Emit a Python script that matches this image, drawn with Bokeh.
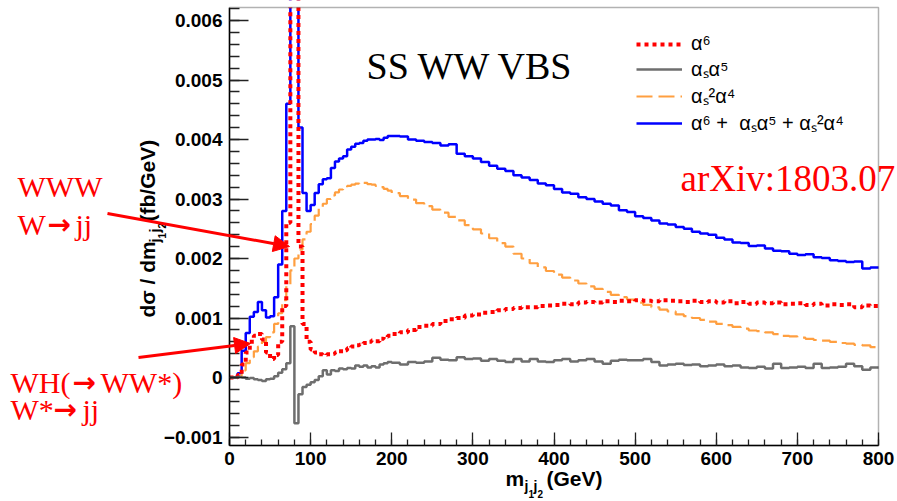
import math
from bokeh.plotting import figure
from bokeh.models import (Range1d, FixedTicker, Label, Arrow, NormalHead, Legend,
                          LegendItem, BoxAnnotation)
from bokeh.embed import file_html
from bokeh.resources import INLINE

# ---------------- data ----------------
# bin edges in GeV: 5 GeV bins up to 200, 10 GeV bins above
bin_edges = list(range(0, 200, 5)) + list(range(200, 801, 10))

alpha6 = [
    0, 0, 0.00004, 0.00022, 0.00042, 0.0006, 0.0007, 0.00073, 0.00064, 0.00042,
    0.00031, 0.00038, 0.0006, 0.0012, 0.0026, 0.0085, 0.008, 0.0022, 0.0009, 0.0006,
    0.00047, 0.00042, 0.00039, 0.00038, 0.00039, 0.0004, 0.00042, 0.00044, 0.00046, 0.00049,
    0.00052, 0.00054, 0.00055, 0.00058, 0.0006, 0.00062, 0.00061, 0.00065, 0.00068, 0.0007,
    0.00073, 0.00076, 0.0008, 0.00085, 0.00087, 0.0009, 0.00095, 0.00098, 0.001, 0.00104,
    0.00106, 0.00109, 0.0011, 0.00113, 0.00115, 0.00117, 0.00118, 0.00118, 0.0012, 0.00121,
    0.00122, 0.00124, 0.00123, 0.00126, 0.00127, 0.00126, 0.00128, 0.00127, 0.00129, 0.00128,
    0.0013, 0.00129, 0.00128, 0.0013, 0.00129, 0.00128, 0.00127, 0.00129, 0.00127, 0.00128,
    0.00126, 0.00128, 0.00125, 0.00127, 0.00124, 0.00126, 0.00125, 0.00126, 0.00123, 0.00124,
    0.00125, 0.00122, 0.00124, 0.00121, 0.00123, 0.00122, 0.00123, 0.00118, 0.00121, 0.0012,
]

as_alpha5 = [
    0, 0, 0.00001, 0, -0.00002, -0.00001, -0.00003, -0.00004, -0.00006, -0.00003,
    -0.00002, 0.00002, 0.00008, 0.00014, 0.00024, 0.00086, -0.00077, -0.00028, -0.00016, -0.00012,
    -0.00008, -0.00004, 0.00002, 0.00012, 0.00005, 0.00012, 0.00011, 0.00015, 0.00014, 0.00016,
    0.00015, 0.0002, 0.00018, 0.0002, 0.00017, 0.00019, 0.00017, 0.00022, 0.00024, 0.00026,
    0.00025, 0.00022, 0.00026, 0.00025, 0.00027, 0.00033, 0.0003, 0.00029, 0.00034, 0.00031,
    0.00032, 0.00028, 0.00031, 0.00028, 0.00026, 0.00031, 0.00027, 0.00031, 0.00027, 0.00026,
    0.00029, 0.00031, 0.00027, 0.00029, 0.00031, 0.00027, 0.00023, 0.00028, 0.0003, 0.00029,
    0.00029, 0.00031, 0.00026, 0.0002, 0.00022, 0.00023, 0.00021, 0.00022, 0.00019, 0.0002,
    0.00022, 0.00019, 0.0002, 0.00017, 0.00016, 0.00018, 0.00015, 0.00023, 0.00016, 0.00017,
    0.00018, 0.00016, 0.00023, 0.00016, 0.00017, 0.00018, 0.00023, 0.00019, 0.00013, 0.00017,
]

as2_alpha4 = [
    0, 0, 0.00002, 0.00012, 0.00024, 0.00034, 0.00044, 0.00052, 0.0006, 0.00068,
    0.00076, 0.0009, 0.00108, 0.0013, 0.00155, 0.0018, 0.002, 0.00215, 0.00232, 0.00245,
    0.00258, 0.00272, 0.00284, 0.00292, 0.003, 0.00306, 0.00311, 0.00316, 0.00319, 0.00322,
    0.00324, 0.00326, 0.00325, 0.00327, 0.00325, 0.00324, 0.00322, 0.0032, 0.00317, 0.00314,
    0.0031, 0.00305, 0.00299, 0.00293, 0.00288, 0.00282, 0.00277, 0.0027, 0.00264, 0.00256,
    0.00249, 0.00242, 0.00234, 0.00226, 0.0022, 0.00208, 0.002, 0.00192, 0.00185, 0.00179,
    0.00173, 0.00168, 0.00163, 0.00158, 0.00153, 0.00149, 0.00144, 0.00139, 0.00135, 0.00131,
    0.00126, 0.00122, 0.00118, 0.00114, 0.00111, 0.00106, 0.00103, 0.001, 0.00097, 0.00094,
    0.0009, 0.00088, 0.00085, 0.00082, 0.00079, 0.00078, 0.00076, 0.00073, 0.0007, 0.00069,
    0.00067, 0.00065, 0.00063, 0.00062, 0.0006, 0.00058, 0.00057, 0.00055, 0.00054, 0.00051,
]

total = [
    0, 0, 0.00007, 0.00045, 0.00075, 0.00102, 0.0011, 0.00127, 0.00113, 0.00101,
    0.00103, 0.00135, 0.0019, 0.0028, 0.0046, 0.0113, 0.0093, 0.0042, 0.0031, 0.0028,
    0.0029, 0.0031, 0.00325, 0.00333, 0.00335, 0.00352, 0.00363, 0.00368, 0.00372, 0.00383,
    0.00388, 0.00393, 0.00394, 0.00398, 0.004, 0.004, 0.00401, 0.00399, 0.00403, 0.00406,
    0.00406, 0.00405, 0.004, 0.00398, 0.00396, 0.00394, 0.0039, 0.00392, 0.00376, 0.00372,
    0.00368, 0.00362, 0.00356, 0.00351, 0.00347, 0.0034, 0.00336, 0.00332, 0.00326, 0.00323,
    0.00317, 0.00311, 0.00309, 0.00303, 0.003, 0.00296, 0.00292, 0.00289, 0.00281, 0.00278,
    0.00271, 0.00268, 0.00264, 0.00259, 0.00257, 0.00253, 0.0025, 0.00245, 0.00242, 0.0024,
    0.00235, 0.00232, 0.00227, 0.00226, 0.00221, 0.00222, 0.00217, 0.00213, 0.00212, 0.00208,
    0.00206, 0.00207, 0.00202, 0.00201, 0.00197, 0.00196, 0.00194, 0.00195, 0.00183, 0.00185,
]

series_labels = ["α⁶", "αₛα⁵", "αₛ²α⁴", "α⁶ +  αₛα⁵ + αₛ²α⁴"]

x_ticks = [0, 100, 200, 300, 400, 500, 600, 700, 800]
x_tick_labels = ["0", "100", "200", "300", "400", "500", "600", "700", "800"]
y_ticks = [-0.001, 0, 0.001, 0.002, 0.003, 0.004, 0.005, 0.006]
y_tick_labels = ["\u22120.001", "0", "0.001", "0.002", "0.003", "0.004", "0.005", "0.006"]

# ---------------- layout geometry (pixels) ----------------
W, H = 897, 501
FR_L, FR_R, FR_T, FR_B = 229, 878, 7, 445          # drawn plot box
X0, X1 = 0, 800                                    # x limits of the plot box
Y_ZERO_PX, Y_PER_UNIT = 377, 59500.0               # y=0 row and px per unit
SX = (FR_R - FR_L) / (X1 - X0)

def xd(px):
    return X0 + (px - FR_L) / SX

def yd(py):
    return (Y_ZERO_PX - py) / Y_PER_UNIT

y_lo, y_hi = yd(FR_B), yd(FR_T)

p = figure(width=W, height=H,
           x_range=Range1d(xd(0), xd(W)), y_range=Range1d(yd(H), yd(0)),
           output_backend="svg", toolbar_location=None,
           min_border_left=0, min_border_right=0,
           min_border_top=0, min_border_bottom=0)
p.background_fill_color = "white"
p.border_fill_color = "white"
p.outline_line_color = None
p.xgrid.visible = False
p.ygrid.visible = False

def closed(vals):
    return list(vals) + [vals[-1]]

r_total = p.step(bin_edges, closed(total), mode="after",
                 line_color="#0000ff", line_width=2.5)
r_orange = p.step(bin_edges, closed(as2_alpha4), mode="after",
                  line_color="#ff9f40", line_width=2.2, line_dash="16 6")
r_red = p.step(bin_edges, closed(alpha6), mode="after",
               line_color="#ff0000", line_width=4, line_dash="4 4")
r_grey = p.step(bin_edges, closed(as_alpha5), mode="after",
                line_color="#6e6e6e", line_width=2.5)

# white mask above the plot box (histogram tops are cut there) and the box itself
p.add_layout(BoxAnnotation(bottom=y_hi, fill_color="white", fill_alpha=1.0,
                           line_alpha=0))
p.add_layout(BoxAnnotation(left=X0, right=X1, bottom=y_lo, top=y_hi,
                           fill_alpha=0, line_color="black", line_width=1.5))

# ---------------- axes ----------------
tick_font = "Liberation Sans"
p.xaxis.ticker = FixedTicker(ticks=x_ticks, minor_ticks=list(range(0, 801, 20)))
p.xaxis.major_label_overrides = dict(zip(x_ticks, x_tick_labels))
p.yaxis.ticker = FixedTicker(ticks=y_ticks,
                             minor_ticks=[round(-0.001 + i * 0.0002, 6) for i in range(37)])
p.yaxis.major_label_overrides = dict(zip(y_ticks, y_tick_labels))
p.xaxis.fixed_location = y_lo
p.yaxis.fixed_location = X0
p.xaxis.bounds = (X0, X1)
p.yaxis.bounds = (y_lo, y_hi)
for ax in (p.xaxis, p.yaxis):
    ax.axis_line_color = "black"
    ax.axis_line_width = 1.5
    ax.major_tick_line_color = "#222222"
    ax.minor_tick_line_color = "#222222"
    ax.major_tick_line_width = 1.3
    ax.minor_tick_line_width = 1.3
    ax.major_tick_out = 0
    ax.minor_tick_out = 0
    ax.major_label_text_font = tick_font
    ax.major_label_text_font_style = "bold"
    ax.major_label_text_font_size = "19px"
    ax.major_label_text_color = "black"
p.xaxis.major_tick_in = 13
p.xaxis.minor_tick_in = 6
p.xaxis.major_label_standoff = 6
p.yaxis.major_tick_in = 19
p.yaxis.minor_tick_in = 10
p.yaxis.major_label_standoff = 7

# ---------------- legend ----------------
legend = Legend(items=[LegendItem(label=series_labels[0], renderers=[r_red]),
                       LegendItem(label=series_labels[1], renderers=[r_grey]),
                       LegendItem(label=series_labels[2], renderers=[r_orange]),
                       LegendItem(label=series_labels[3], renderers=[r_total])],
                location=(636, 365), glyph_width=46, glyph_height=20, label_height=20,
                spacing=0, padding=0, margin=0, label_standoff=9,
                border_line_alpha=0, background_fill_alpha=0,
                label_text_font="Liberation Sans", label_text_font_size="20px",
                label_text_color="black")
p.add_layout(legend)

# ---------------- texts ----------------
BASE_FIX = 0.38   # baseline correction, fraction of font size

def add_text(px, py, text, size, color="black", font="Liberation Sans",
             style="normal", rotated=False):
    if rotated:
        px = px - BASE_FIX * size
    else:
        py = py - BASE_FIX * size
    p.add_layout(Label(x=xd(px), y=yd(py), text=text, text_font_size=f"{size}px",
                       text_color=color, text_font=font, text_font_style=style,
                       angle=(math.pi / 2 if rotated else 0.0),
                       text_align="left", text_baseline="alphabetic"))

serif = "Liberation Serif"
arrow_font = "DejaVu Sans"
add_text(366, 80, "SS WW VBS", 38, font=serif)
add_text(680, 192, "arXiv:1803.07", 37, color="red", font=serif)

# red annotations, the arrow glyph set in a heavier face
add_text(17, 197, "WWW", 30, color="red", font=serif)
add_text(17, 235, "W", 30, color="red", font=serif)
add_text(47, 235, "→", 28, color="red", font=arrow_font, style="bold")
add_text(75, 235, "jj", 30, color="red", font=serif)

add_text(10, 393, "WH(", 30, color="red", font=serif)
add_text(72, 393, "→", 28, color="red", font=arrow_font, style="bold")
add_text(100, 393, "WW*)", 30, color="red", font=serif)
add_text(10, 420, "W*", 30, color="red", font=serif)
add_text(53, 420, "→", 28, color="red", font=arrow_font, style="bold")
add_text(82, 420, "jj", 30, color="red", font=serif)

# x-axis title: m_{j1 j2} (GeV)
add_text(505, 486, "m", 21, style="bold")
add_text(524, 491, "j", 14, style="bold")
add_text(528, 497, "1", 10, style="bold")
add_text(533, 491, "j", 14, style="bold")
add_text(537, 497, "2", 10, style="bold")
add_text(546, 486, "(GeV)", 21, style="bold")

# y-axis title (rotated): dσ / dm_{j1 j2} (fb/GeV)
add_text(155, 317, "dσ / dm", 21, style="bold", rotated=True)
add_text(160, 242, "j", 14, style="bold", rotated=True)
add_text(165, 238, "1", 10, style="bold", rotated=True)
add_text(160, 232, "j", 14, style="bold", rotated=True)
add_text(165, 228, "2", 10, style="bold", rotated=True)
add_text(155, 221, "(fb/GeV)", 21, style="bold", rotated=True)

# red arrows (pixel start -> pixel tip)
for (sx, sy, ex, ey) in [(107, 213, 289, 246), (138, 357, 250, 343)]:
    p.add_layout(Arrow(end=NormalHead(size=16, fill_color="red", line_color="red"),
                       x_start=xd(sx), y_start=yd(sy), x_end=xd(ex), y_end=yd(ey),
                       line_color="red", line_width=3))

open("out.html", "w").write(file_html(p, INLINE))
